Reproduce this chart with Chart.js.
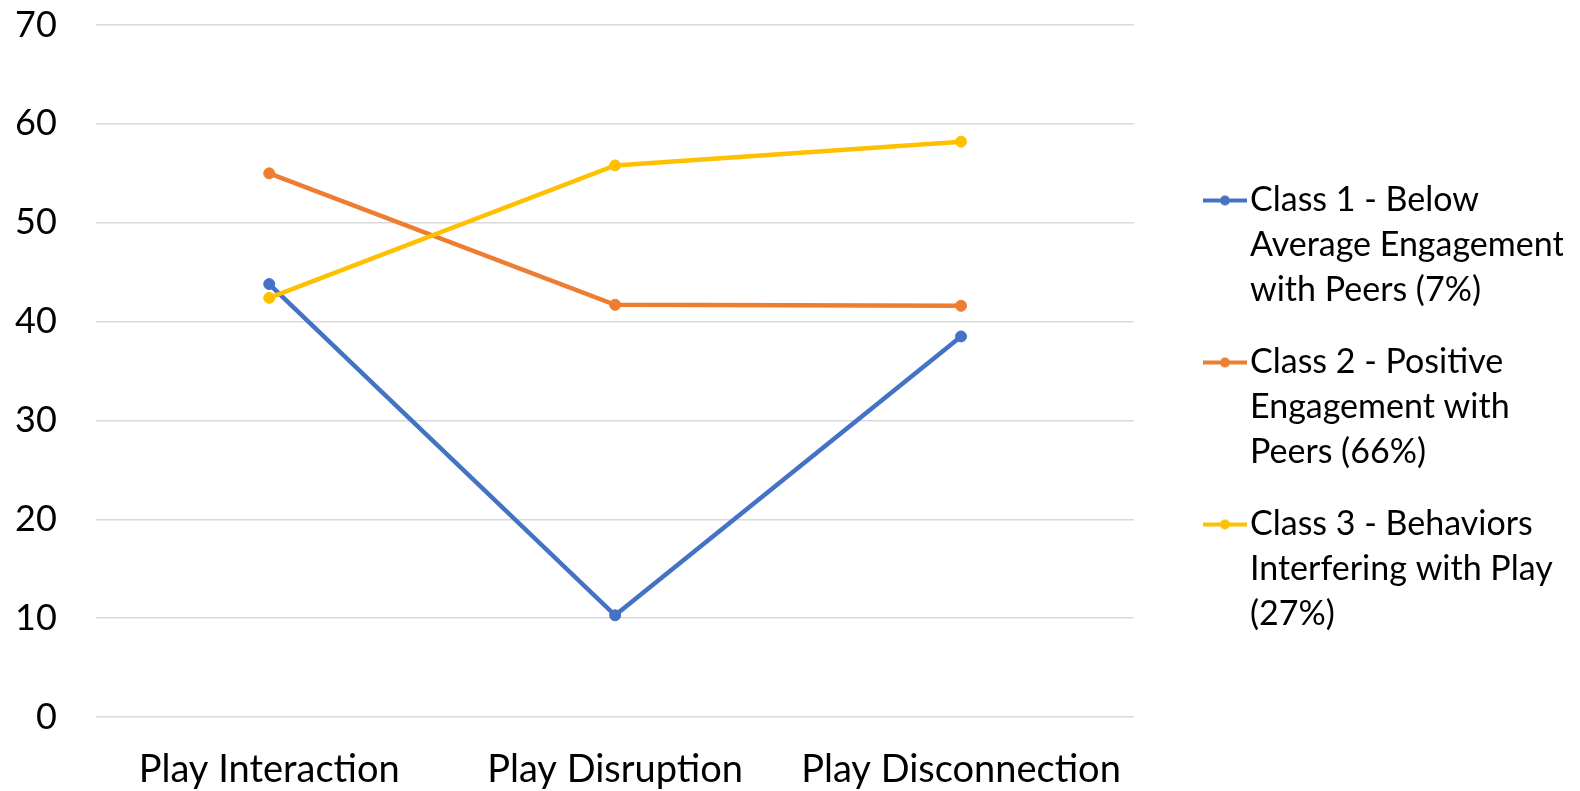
<!DOCTYPE html>
<html>
<head>
<meta charset="utf-8">
<script src="https://cdn.jsdelivr.net/npm/chart.js@4.4.1/dist/chart.umd.min.js"></script>
<style>
  html, body { margin: 0; padding: 0; background: #ffffff; }
  #wrap { width: 1580px; height: 791px; }
</style>
</head>
<body>
<div id="wrap"><canvas id="chart" width="1580" height="791"></canvas></div>
<script>
// Profile means for the three latent classes across the play dimensions
const categories = ['Play Interaction', 'Play Disruption', 'Play Disconnection'];
const class1Values = [43.8, 10.3, 38.5];
const class2Values = [55.0, 41.7, 41.6];
const class3Values = [42.4, 55.8, 58.2];
const seriesNames = [
  'Class 1 - Below Average Engagement with Peers (7%)',
  'Class 2 - Positive Engagement with Peers (66%)',
  'Class 3 - Behaviors Interfering with Play (27%)'
];
// Legend text, broken into lines
const legendLines = [
  ['Class 1 - Below', 'Average Engagement', 'with Peers (7%)'],
  ['Class 2 - Positive', 'Engagement with', 'Peers (66%)'],
  ['Class 3 - Behaviors', 'Interfering with Play', '(27%)']
];
const yMin = 0;
const yMax = 70;
const yStep = 10;

const seriesColors = ['#4472C4', '#ED7D31', '#FFC000'];
const fontFamily = 'Lato, "DejaVu Sans", sans-serif';
const xFontSize = 38;
const yFontSize = 36;
const legendFontSize = 34;
const legendGap = 56;      // space between plot area and legend column
const legendDrop = 5;      // nudge legend column downwards

// Small line-with-dot swatch for the legend
function makeSwatch(color) {
  const c = document.createElement('canvas');
  c.width = 44; c.height = 12;
  const g = c.getContext('2d');
  g.strokeStyle = color;
  g.lineWidth = 4;
  g.beginPath(); g.moveTo(0, 6); g.lineTo(44, 6); g.stroke();
  g.fillStyle = color;
  g.beginPath(); g.arc(22, 6, 5, 0, Math.PI * 2); g.fill();
  return c;
}
const swatches = seriesColors.map(makeSwatch);

const valueSets = [class1Values, class2Values, class3Values];
const datasets = valueSets.map((vals, i) => ({
  label: seriesNames[i],
  data: vals,
  borderColor: seriesColors[i],
  backgroundColor: seriesColors[i],
  pointBackgroundColor: seriesColors[i],
  pointBorderColor: seriesColors[i],
  borderWidth: 4.5,
  pointRadius: 5.5,
  pointBorderWidth: 1,
  tension: 0,
  fill: false,
  clip: false,
  order: valueSets.length - i   // later classes drawn on top
}));

// Moves the legend column away from the plot area
const legendOffset = {
  id: 'legendOffset',
  afterLayout(chart) {
    const lg = chart.legend;
    if (!lg) return;
    const dx = chart.chartArea.right + legendGap - lg.left;
    lg.left += dx; lg.right += dx;
    lg.top += legendDrop; lg.bottom += legendDrop;
  }
};

new Chart(document.getElementById('chart'), {
  type: 'line',
  data: { labels: categories, datasets: datasets },
  plugins: [legendOffset],
  options: {
    responsive: false,
    devicePixelRatio: 1,
    animation: false,
    layout: { padding: { left: 15, right: 73, top: 25, bottom: 0 } },
    font: { family: fontFamily },
    plugins: {
      tooltip: { enabled: false },
      legend: {
        position: 'right',
        align: 'center',
        labels: {
          usePointStyle: true,
          boxWidth: 16,
          boxHeight: 12,
          padding: 27,
          color: '#000000',
          font: { family: fontFamily, size: legendFontSize, lineHeight: '45px' },
          generateLabels(chart) {
            return chart.data.datasets.map((ds, i) => ({
              text: legendLines[i],
              fillStyle: ds.borderColor,
              strokeStyle: ds.borderColor,
              lineWidth: 0,
              hidden: !chart.isDatasetVisible(i),
              pointStyle: swatches[i],
              datasetIndex: i,
              fontColor: '#000000'
            }));
          }
        }
      }
    },
    scales: {
      x: {
        offset: true,
        grid: { display: false, drawTicks: true, tickLength: 32.1 },
        border: { display: false },
        ticks: {
          color: '#000000',
          padding: 0,
          maxRotation: 0,
          font: { family: fontFamily, size: xFontSize, lineHeight: 1.1 }
        }
      },
      y: {
        min: yMin,
        max: yMax,
        grid: {
          color: '#d9d9d9',
          lineWidth: 1.5,
          drawTicks: true,
          tickLength: 39.5,
          tickColor: 'rgba(0,0,0,0)'
        },
        border: { display: false },
        ticks: {
          stepSize: yStep,
          color: '#000000',
          padding: 0,
          font: { family: fontFamily, size: yFontSize }
        }
      }
    }
  }
});
</script>
</body>
</html>
